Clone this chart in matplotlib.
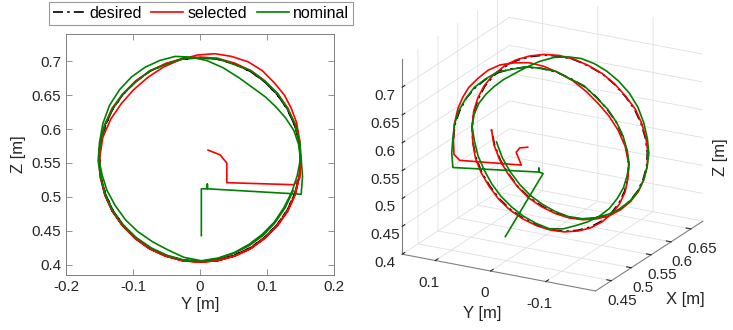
import matplotlib
matplotlib.use("Agg")
import matplotlib.pyplot as plt
from matplotlib.ticker import FuncFormatter

plt.rcParams['font.family'] = ['Liberation Sans', 'DejaVu Sans']
plt.rcParams['axes.unicode_minus'] = False

# X position along the two loops (shared by all three traces), 10 deg steps
loop_x = [0.525, 0.526, 0.528, 0.529, 0.530, 0.532, 0.533, 0.534, 0.535, 0.537, 0.538, 0.539,
          0.541, 0.542, 0.543, 0.545, 0.546, 0.547, 0.549, 0.550, 0.551, 0.552, 0.554, 0.555,
          0.556, 0.558, 0.559, 0.560, 0.562, 0.563, 0.564, 0.565, 0.567, 0.568, 0.569, 0.571,
          0.572, 0.573, 0.575, 0.576, 0.577, 0.579, 0.580, 0.581, 0.582, 0.584, 0.585, 0.586,
          0.588, 0.589, 0.590, 0.592, 0.593, 0.594, 0.596, 0.597, 0.598, 0.599, 0.601, 0.602,
          0.603, 0.605, 0.606, 0.607, 0.609, 0.610, 0.611, 0.612, 0.614, 0.615, 0.616, 0.618]

# desired trajectory
desired_y = [0.150, 0.148, 0.141, 0.130, 0.115, 0.096, 0.075, 0.051, 0.026, 0.000, -0.026, -0.051,
             -0.075, -0.096, -0.115, -0.130, -0.141, -0.148, -0.150, -0.148, -0.141, -0.130, -0.115, -0.096,
             -0.075, -0.051, -0.026, 0.000, 0.026, 0.051, 0.075, 0.096, 0.115, 0.130, 0.141, 0.148,
             0.150, 0.148, 0.141, 0.130, 0.115, 0.096, 0.075, 0.051, 0.026, 0.000, -0.026, -0.051,
             -0.075, -0.096, -0.115, -0.130, -0.141, -0.148, -0.150, -0.148, -0.141, -0.130, -0.115, -0.096,
             -0.075, -0.051, -0.026, 0.000, 0.026, 0.051, 0.075, 0.096, 0.115, 0.130, 0.141, 0.148]
desired_z = [0.555, 0.581, 0.606, 0.630, 0.651, 0.670, 0.685, 0.696, 0.703, 0.705, 0.703, 0.696,
             0.685, 0.670, 0.651, 0.630, 0.606, 0.581, 0.555, 0.529, 0.504, 0.480, 0.459, 0.440,
             0.425, 0.414, 0.407, 0.405, 0.407, 0.414, 0.425, 0.440, 0.459, 0.480, 0.504, 0.529,
             0.555, 0.581, 0.606, 0.630, 0.651, 0.670, 0.685, 0.696, 0.703, 0.705, 0.703, 0.696,
             0.685, 0.670, 0.651, 0.630, 0.606, 0.581, 0.555, 0.529, 0.504, 0.480, 0.459, 0.440,
             0.425, 0.414, 0.407, 0.405, 0.407, 0.414, 0.425, 0.440, 0.459, 0.480, 0.504, 0.529]

# selected trajectory (approach segment, then loops)
selected_start_x = [0.520, 0.525, 0.530, 0.543, 0.527, 0.525]
selected_start_y = [0.012, 0.030, 0.040, 0.040, 0.140, 0.149]
selected_start_z = [0.569, 0.562, 0.550, 0.521, 0.518, 0.528]
selected_y = [0.150, 0.149, 0.144, 0.136, 0.126, 0.111, 0.093, 0.072, 0.047, 0.022, -0.004, -0.030,
              -0.055, -0.078, -0.099, -0.117, -0.133, -0.145, -0.150, -0.148, -0.142, -0.131, -0.116, -0.097,
              -0.076, -0.052, -0.026, 0.000, 0.026, 0.052, 0.076, 0.097, 0.116, 0.131, 0.142, 0.148,
              0.150, 0.148, 0.142, 0.131, 0.116, 0.097, 0.076, 0.052, 0.027, 0.001, -0.025, -0.050,
              -0.074, -0.096, -0.115, -0.131, -0.142, -0.149, -0.151, -0.149, -0.142, -0.131, -0.116, -0.097,
              -0.076, -0.052, -0.026, 0.000, 0.026, 0.052, 0.076, 0.097, 0.116, 0.131, 0.142, 0.148]
selected_z = [0.555, 0.582, 0.610, 0.631, 0.650, 0.668, 0.686, 0.699, 0.707, 0.711, 0.709, 0.702,
              0.691, 0.676, 0.658, 0.638, 0.615, 0.588, 0.557, 0.529, 0.503, 0.479, 0.458, 0.439,
              0.424, 0.413, 0.406, 0.404, 0.406, 0.413, 0.424, 0.439, 0.458, 0.479, 0.503, 0.529,
              0.556, 0.582, 0.607, 0.631, 0.652, 0.671, 0.686, 0.697, 0.704, 0.706, 0.704, 0.697,
              0.686, 0.671, 0.652, 0.631, 0.607, 0.581, 0.555, 0.529, 0.503, 0.479, 0.458, 0.439,
              0.424, 0.413, 0.406, 0.404, 0.406, 0.413, 0.424, 0.440, 0.459, 0.480, 0.504, 0.529]

# nominal trajectory (approach segment, then loops)
nominal_start_x = [0.450, 0.545, 0.547, 0.547, 0.547, 0.525, 0.525]
nominal_start_y = [0.002, 0.002, 0.011, 0.011, 0.011, 0.151, 0.153]
nominal_start_z = [0.443, 0.512, 0.512, 0.519, 0.512, 0.504, 0.530]
nominal_y = [0.151, 0.149, 0.142, 0.131, 0.116, 0.097, 0.076, 0.051, 0.026, 0.000, -0.026, -0.051,
             -0.075, -0.096, -0.116, -0.131, -0.142, -0.149, -0.151, -0.146, -0.139, -0.127, -0.111, -0.093,
             -0.071, -0.048, -0.024, 0.002, 0.027, 0.051, 0.073, 0.093, 0.111, 0.125, 0.137, 0.145,
             0.150, 0.147, 0.140, 0.128, 0.114, 0.098, 0.080, 0.059, 0.035, 0.010, -0.015, -0.037,
             -0.060, -0.082, -0.102, -0.120, -0.135, -0.145, -0.150, -0.152, -0.148, -0.141, -0.130, -0.114,
             -0.095, -0.073, -0.049, -0.024, 0.002, 0.027, 0.051, 0.073, 0.094, 0.112, 0.127, 0.139]
nominal_z = [0.556, 0.581, 0.607, 0.629, 0.652, 0.670, 0.686, 0.695, 0.704, 0.705, 0.704, 0.695,
             0.686, 0.669, 0.651, 0.629, 0.606, 0.580, 0.555, 0.532, 0.510, 0.488, 0.466, 0.449,
             0.434, 0.422, 0.411, 0.406, 0.410, 0.418, 0.430, 0.445, 0.463, 0.484, 0.507, 0.531,
             0.556, 0.578, 0.598, 0.616, 0.632, 0.647, 0.660, 0.675, 0.690, 0.701, 0.706, 0.707,
             0.701, 0.691, 0.677, 0.658, 0.635, 0.608, 0.580, 0.553, 0.527, 0.502, 0.479, 0.458,
             0.440, 0.425, 0.414, 0.407, 0.405, 0.409, 0.417, 0.428, 0.443, 0.462, 0.484, 0.509]

sel_x = selected_start_x + loop_x
sel_y = selected_start_y + selected_y
sel_z = selected_start_z + selected_z
nom_x = nominal_start_x + loop_x
nom_y = nominal_start_y + nominal_y
nom_z = nominal_start_z + nominal_z

RED = (1.0, 0.0, 0.0)
GREEN = (0.0, 0.5, 0.0)
AX_GRAY = (0.5, 0.5, 0.5)
TXT = (0.15, 0.15, 0.15)
LW = 1.2
DASHDOT = (0, (6, 2.5, 1.5, 2.5))
fmt = FuncFormatter(lambda v, p: f"{v:g}")

fig = plt.figure(figsize=(7.33, 3.30), dpi=100)

# ---- left: Y-Z view ----
ax = fig.add_axes([66 / 733, 55 / 330, 268 / 733, 241 / 330])
ax.plot(desired_y, desired_z, color='k', lw=LW, linestyle=DASHDOT, label='desired')
ax.plot(sel_y, sel_z, color=RED, lw=LW, label='selected')
ax.plot(nom_y, nom_z, color=GREEN, lw=LW, label='nominal')
ax.set_xlim(-0.2, 0.2)
ax.set_ylim(0.385, 0.74)
ax.set_xticks([-0.2, -0.1, 0, 0.1, 0.2])
ax.set_yticks([0.4, 0.45, 0.5, 0.55, 0.6, 0.65, 0.7])
ax.xaxis.set_major_formatter(fmt)
ax.yaxis.set_major_formatter(fmt)
ax.tick_params(direction='in', top=True, right=True, length=4, width=0.6,
               color=AX_GRAY, labelcolor=TXT, labelsize=11)
for s in ax.spines.values():
    s.set_color(AX_GRAY)
    s.set_linewidth(0.7)
ax.set_xlabel('Y [m]', fontsize=12, color=TXT, labelpad=2)
ax.set_ylabel('Z [m]', fontsize=12, color=TXT, labelpad=4)

# ---- right: 3D view ----
ax3 = fig.add_axes([0.497, 0.0, 0.50, 1.12], projection='3d')
ax3.plot(loop_x, desired_y, desired_z, color='k', lw=LW, linestyle=DASHDOT)
ax3.plot(sel_x, sel_y, sel_z, color=RED, lw=LW)
ax3.plot(nom_x, nom_y, nom_z, color=GREEN, lw=LW)
ax3.set_proj_type('ortho')
ax3.view_init(elev=20.6, azim=-151.6)
ax3.set_xlim(0.41, 0.68)
ax3.set_ylim(-0.19, 0.16)
ax3.set_zlim(0.4, 0.75)
ax3.set_box_aspect((1.17, 1.14, 1.08))
ax3.set_xticks([0.45, 0.5, 0.55, 0.6, 0.65])
ax3.set_yticks([-0.1, 0, 0.1])
ax3.set_zticks([0.4, 0.45, 0.5, 0.55, 0.6, 0.65, 0.7])
for a in (ax3.xaxis, ax3.yaxis, ax3.zaxis):
    a.set_major_formatter(fmt)
    a.pane.fill = False
    a.pane.set_edgecolor((1, 1, 1, 0))
    a.line.set_color(AX_GRAY)
    a._axinfo['grid']['color'] = (0.88, 0.88, 0.88)
    a._axinfo['grid']['linewidth'] = 0.6
    a._axinfo['tick']['inward_factor'] = 0.0
    a._axinfo['tick']['outward_factor'] = 0.3
    a.set_rotate_label(False)
ax3.tick_params(labelsize=11, colors=TXT, pad=0)
ax3.zaxis.set_ticks_position('upper')
ax3.set_xlabel('X [m]', fontsize=12, color=TXT, labelpad=5)
ax3.set_ylabel('Y [m]', fontsize=12, color=TXT, labelpad=0)
# z label sits on the right-hand side, away from the tick labels
fig.text(721 / 733, 1 - 157 / 330, 'Z [m]', rotation=90, fontsize=12, color=TXT,
         ha='center', va='center')

handles, labels = ax.get_legend_handles_labels()
leg = fig.legend(handles, labels, loc='upper center', bbox_to_anchor=(201 / 733, 1 - 2 / 330),
                 ncol=3, frameon=True, fancybox=False, fontsize=11.5, handlelength=2.0,
                 handletextpad=0.25, columnspacing=0.6, borderpad=0.25, borderaxespad=0)
leg.get_frame().set_edgecolor(AX_GRAY)
leg.get_frame().set_linewidth(0.8)

fig.savefig('out.png', dpi=100)
